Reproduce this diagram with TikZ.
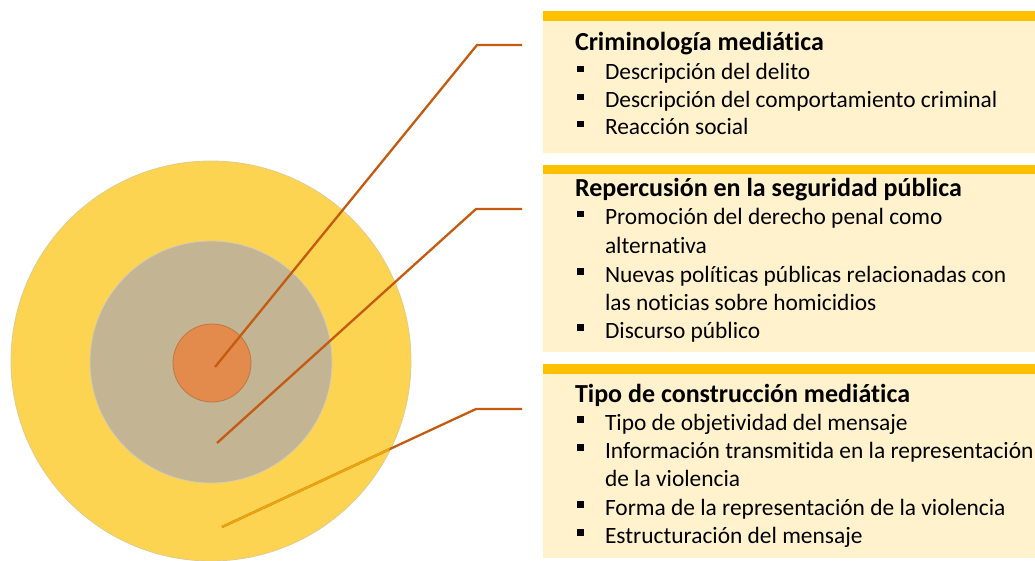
\documentclass[tikz,border=0pt]{standalone}
\usepackage{fontspec}
\setmainfont{Carlito}[Ligatures=NoCommon]
\usetikzlibrary{positioning}

\definecolor{bandgold}{HTML}{FFC000}
\definecolor{boxcream}{HTML}{FFF2CC}
\definecolor{ringyellow}{HTML}{FDD451}
\definecolor{ringtan}{HTML}{C3B493}
\definecolor{coreorange}{HTML}{E38B4C}
\definecolor{leaderdark}{HTML}{C55A11}
\definecolor{leaderlight}{HTML}{E9A40E}

\begin{document}
\begin{tikzpicture}[x=1pt, y=-1pt]
        \tikzstyle{every node}=[inner sep=0pt, outer sep=0pt]
        \tikzstyle{ring}=[circle, line width=0.8pt]
        \tikzstyle{leader}=[draw=leaderdark, line width=2.3pt]
        \tikzstyle{headline}=[anchor=base west, font=\fontsize{26}{31}\selectfont\bfseries]
        \tikzstyle{itemline}=[anchor=base west, font=\fontsize{23.4}{28}\selectfont]

        \useasboundingbox (0,0) rectangle (1035,561);
        \clip (0,0) rectangle (1035,561);

% The three concentric circles on the left.

        \node[ring, fill=ringyellow, draw=ringyellow!80!black!60, minimum size=400pt] (outer) at (211,361) {};
        \node[ring, fill=ringtan, draw=ringtan!70!white, minimum size=242pt] (middle) at (211,362) {};
        \node[ring, fill=coreorange, draw=coreorange!85!black, minimum size=78pt] (core) at (212,363) {};

% The cream boxes with their gold bands.

        \fill[boxcream] (543,21) rectangle (1035,153);
        \fill[bandgold] (543,11) rectangle (1035,21);
        \fill[boxcream] (543,174) rectangle (1035,352);
        \fill[bandgold] (543,165) rectangle (1035,174);
        \fill[boxcream] (543,374) rectangle (1035,558);
        \fill[bandgold] (543,364) rectangle (1035,374);

% Leader lines from the circles to the boxes.

        \coordinate (pin1) at (215,367);
        \coordinate (knee1) at (477,45);
        \coordinate (tip1) at (522,45);
        \coordinate (pin2) at (217,443);
        \coordinate (knee2) at (476,209);
        \coordinate (tip2) at (522,209);
        \coordinate (pin3) at (222,527);
        \coordinate (knee3) at (476,409);
        \coordinate (tip3) at (522,409);

        \draw[leader] (pin1) -- (knee1) -- (tip1);
        \draw[leader] (pin2) -- (knee2) -- (tip2);
        \draw[leader] (pin3) -- (knee3) -- (tip3);
        \begin{scope}
            \clip (outer.center) circle (199pt);
            \draw[leader, draw=leaderlight] (pin3) -- (knee3);
        \end{scope}

% Headings.

        \node[headline] (head1) at (575,51) {Criminología mediática};
        \node[headline] (head2) at (575,197) {Repercusión en la seguridad pública};
        \node[headline] (head3) at (575,402) {Tipo de construcción mediática};

% Bulleted lines.

        \foreach \y/\t in {80/Descripción del delito, 108/Descripción del comportamiento criminal, 135/Reacción social,
                225/Promoción del derecho penal como, 282/Nuevas políticas públicas relacionadas con, 338/Discurso público,
                430/Tipo de objetividad del mensaje, 458/Información transmitida en la representación, 515/Forma de la representación de la violencia, 543/Estructuración del mensaje}
        {
            \fill (577,\y-14) rectangle ++(6.5,6.5);
            \node[itemline] (item\y) at (605,\y) {\t};
        }

% Continuation lines without a bullet.

        \foreach \y/\t in {254/alternativa, 310/las noticias sobre homicidios, 486/de la violencia}
        {
            \node[itemline] (more\y) at (605,\y) {\t};
        }

    \end{tikzpicture}
\end{document}
